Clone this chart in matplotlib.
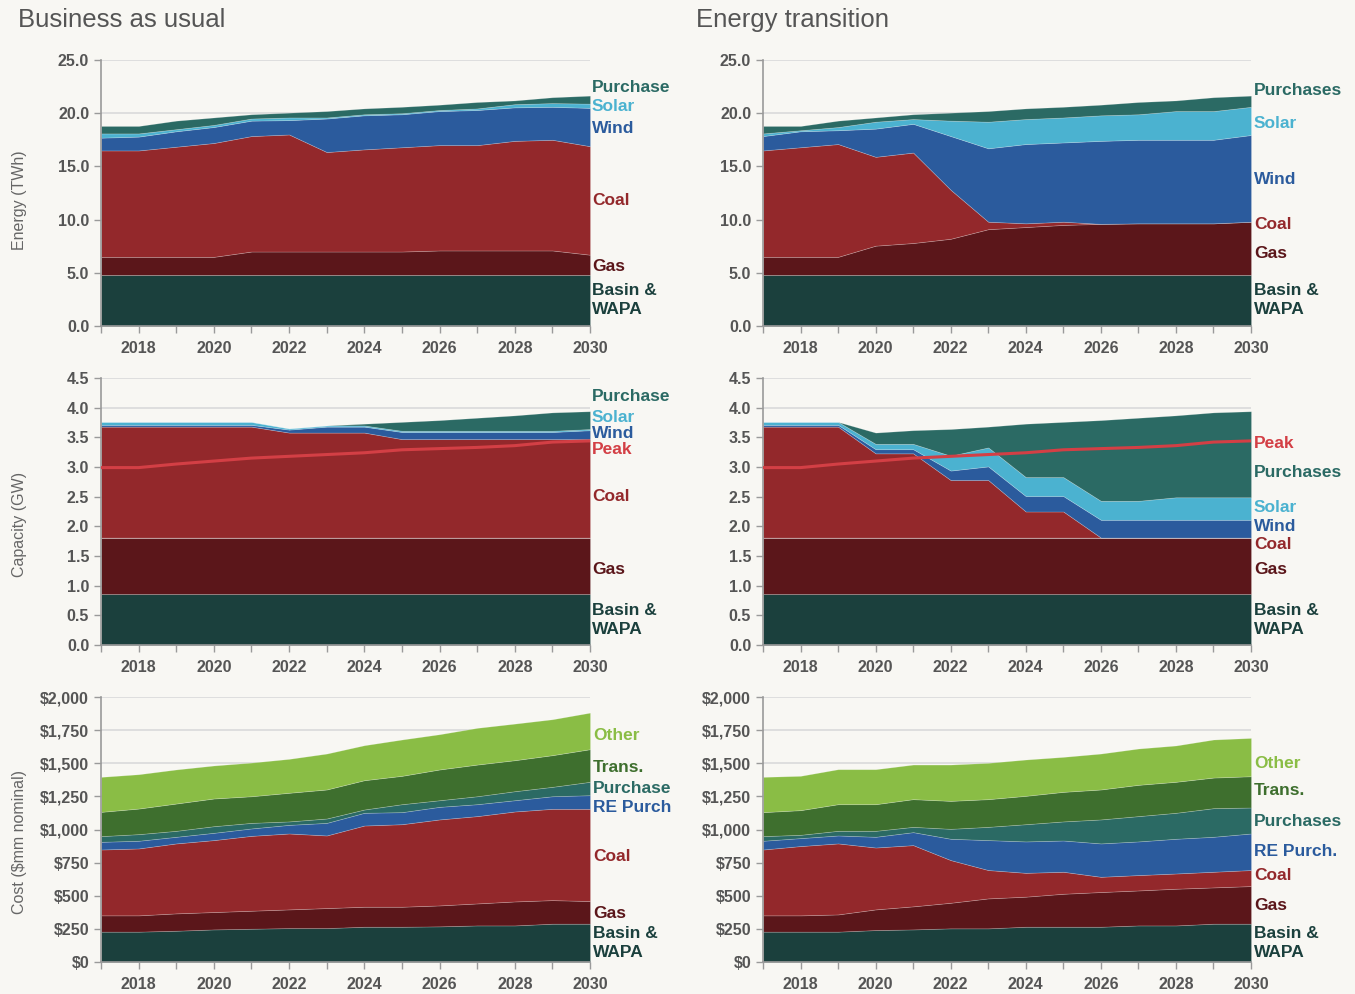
import numpy as np
import matplotlib
matplotlib.use("Agg")
import matplotlib.pyplot as plt
from matplotlib.ticker import FuncFormatter

plt.rcParams['font.family'] = ['Liberation Sans', 'DejaVu Sans']

# years on the x axis
years = np.arange(2017, 2031)

# ---- Energy (TWh) ----
bau_energy_basin = [4.8] * 14
bau_energy_gas = [1.7, 1.7, 1.7, 1.7, 2.2, 2.2, 2.2, 2.2, 2.2, 2.3, 2.3, 2.3, 2.3, 1.9]
bau_energy_coal = [10.0, 10.0, 10.35, 10.7, 10.85, 11.0, 9.35, 9.6, 9.8, 9.9, 9.9, 10.3, 10.4, 10.2]
bau_energy_wind = [1.2, 1.3, 1.45, 1.5, 1.45, 1.35, 3.15, 3.2, 3.1, 3.2, 3.3, 3.15, 3.1, 3.6]
bau_energy_solar = [0.4, 0.3, 0.2, 0.2, 0.2, 0.25, 0.1, 0.1, 0.1, 0.1, 0.15, 0.3, 0.35, 0.4]
bau_energy_purch = [0.7, 0.7, 0.8, 0.7, 0.4, 0.45, 0.6, 0.55, 0.6, 0.5, 0.6, 0.35, 0.55, 0.75]

et_energy_basin = [4.8] * 14
et_energy_gas = [1.7, 1.7, 1.7, 2.75, 3.0, 3.4, 4.3, 4.5, 4.7, 4.8, 4.85, 4.85, 4.85, 5.0]
et_energy_coal = [10.0, 10.3, 10.6, 8.35, 8.5, 4.6, 0.7, 0.35, 0.3, 0, 0, 0, 0, 0]
et_energy_wind = [1.35, 1.5, 1.3, 2.65, 2.7, 5.05, 6.9, 7.45, 7.45, 7.8, 7.85, 7.85, 7.85, 8.15]
et_energy_solar = [0.25, 0.1, 0.3, 0.65, 0.45, 1.45, 2.5, 2.35, 2.35, 2.4, 2.4, 2.7, 2.7, 2.65]
et_energy_purch = [0.7, 0.4, 0.6, 0.4, 0.45, 0.75, 1.0, 1.0, 1.0, 1.0, 1.15, 1.0, 1.3, 1.05]

# ---- Capacity (GW) ----
bau_cap_basin = [0.86] * 14
bau_cap_gas = [0.95] * 14
bau_cap_coal = [1.87] * 5 + [1.77] * 3 + [1.66] * 6
bau_cap_wind = [0.03] * 5 + [0.05, 0.10, 0.10] + [0.12] * 5 + [0.15]
bau_cap_solar = [0.05] * 5 + [0.02] * 9
bau_cap_purch = [0, 0, 0, 0, 0, 0, 0, 0.03, 0.15, 0.18, 0.22, 0.26, 0.31, 0.30]

et_cap_basin = [0.86] * 14
et_cap_gas = [0.95] * 14
et_cap_coal = [1.87, 1.87, 1.87, 1.42, 1.42, 0.97, 0.97, 0.44, 0.44, 0, 0, 0, 0, 0]
et_cap_wind = [0.03, 0.03, 0.03, 0.07, 0.07, 0.16, 0.23, 0.26, 0.26, 0.30, 0.30, 0.30, 0.30, 0.30]
et_cap_solar = [0.05, 0.05, 0.05, 0.09, 0.09, 0.25, 0.32, 0.32, 0.32, 0.32, 0.32, 0.38, 0.38, 0.38]
et_cap_purch = [0, 0, 0, 0.19, 0.23, 0.45, 0.35, 0.90, 0.93, 1.36, 1.40, 1.38, 1.43, 1.45]

peak = [2.99, 2.99, 3.05, 3.10, 3.15, 3.18, 3.21, 3.24, 3.29, 3.31, 3.33, 3.36, 3.42, 3.44]

# ---- Cost ($mm nominal) ----
bau_cost_basin = [229, 229, 236, 246, 251, 256, 256, 266, 266, 269, 276, 276, 289, 289]
bau_cost_gas = [123, 123, 131, 131, 136, 141, 151, 151, 151, 158, 166, 181, 178, 171]
bau_cost_coal = [497, 505, 528, 543, 565, 573, 548, 613, 623, 649, 659, 679, 689, 696]
bau_cost_re = [58, 58, 50, 55, 56, 65, 95, 96, 91, 95, 90, 85, 95, 103]
bau_cost_purch = [43, 50, 45, 50, 42, 26, 33, 25, 60, 50, 60, 68, 71, 101]
bau_cost_trans = [183, 193, 206, 209, 201, 216, 219, 221, 214, 232, 239, 234, 239, 246]
bau_cost_other = [264, 259, 257, 249, 254, 256, 271, 264, 274, 266, 277, 276, 271, 276]

et_cost_basin = [229, 229, 229, 241, 246, 254, 254, 266, 266, 266, 276, 276, 289, 289]
et_cost_gas = [123, 123, 130, 156, 174, 193, 226, 227, 249, 262, 264, 277, 274, 284]
et_cost_coal = [497, 523, 536, 467, 462, 322, 214, 180, 166, 115, 116, 115, 118, 121]
et_cost_re = [66, 60, 60, 81, 98, 161, 226, 237, 236, 252, 254, 262, 264, 276]
et_cost_purch = [35, 25, 35, 45, 40, 75, 100, 130, 144, 181, 191, 196, 216, 196]
et_cost_trans = [181, 186, 201, 201, 209, 211, 209, 214, 223, 226, 236, 234, 231, 236]
et_cost_other = [266, 259, 264, 264, 261, 274, 274, 274, 264, 271, 274, 274, 287, 289]

# colours
c_basin = '#1b403d'
c_gas = '#5b161a'
c_coal = '#93282b'
c_wind = '#2b5b9d'
c_solar = '#4bb2d0'
c_purch = '#2b6a64'
c_peak = '#d33f45'
c_trans = '#3e6f2e'
c_other = '#8abd45'
bg = '#f8f7f3'
grey = '#555555'

W, H = 1355, 994
fig = plt.figure(figsize=(W / 100, H / 100), dpi=100, facecolor=bg)


def make_ax(left, right, top, bottom):
    ax = fig.add_axes([left / W, (H - bottom) / H, (right - left) / W, (bottom - top) / H])
    ax.set_facecolor(bg)
    for s in ['top', 'right']:
        ax.spines[s].set_visible(False)
    for s in ['left', 'bottom']:
        ax.spines[s].set_color('#9a9a9a')
        ax.spines[s].set_linewidth(1.2)
    ax.set_xlim(2017, 2030)
    ax.set_xticks(years)
    ax.set_xticklabels([str(y) if y % 2 == 0 else '' for y in years])
    ax.tick_params(axis='both', colors='#9a9a9a', length=5, width=1, labelcolor=grey,
                   labelsize=11.5)
    ax.tick_params(axis='x', pad=6)
    for lab in ax.get_xticklabels() + ax.get_yticklabels():
        lab.set_fontweight('bold')
    ax.grid(axis='y', color='#dcdcdc', linewidth=1.3)
    ax.set_axisbelow(True)
    return ax


def stack(ax, layers, colors):
    ax.stackplot(years, *layers, colors=colors, edgecolor=(1, 1, 1, 0.25), linewidth=0.5,
                 zorder=2)


def labels(ax, x, items):
    for txt, yv, col in items:
        ax.text(x, yv, txt, color=col, fontsize=12.5, fontweight='bold', va='center',
                ha='left', transform=ax.get_yaxis_transform(), clip_on=False,
                linespacing=1.35)


lefts = (101, 590)
rights = (763, 1251)
rows = [(60, 326), (378, 645), (697, 962)]

# --- row 1: energy ---
energy_colors = [c_basin, c_gas, c_coal, c_wind, c_solar, c_purch]
for i, (lr, layers) in enumerate([
        (lefts, [bau_energy_basin, bau_energy_gas, bau_energy_coal, bau_energy_wind,
                 bau_energy_solar, bau_energy_purch]),
        (rights, [et_energy_basin, et_energy_gas, et_energy_coal, et_energy_wind,
                  et_energy_solar, et_energy_purch])]):
    ax = make_ax(lr[0], lr[1], *rows[0])
    stack(ax, layers, energy_colors)
    ax.set_ylim(0, 25)
    ax.set_yticks(np.arange(0, 25.1, 5))
    ax.yaxis.set_major_formatter(FuncFormatter(lambda v, p: f'{v:.1f}'))
    for lab in ax.get_yticklabels():
        lab.set_fontweight('bold')
    if i == 0:
        labels(ax, 1.004, [('Purchase', 22.4, c_purch), ('Solar', 20.6, c_solar),
                           ('Wind', 18.6, c_wind), ('Coal', 11.8, c_coal),
                           ('Gas', 5.6, c_gas), ('Basin &\nWAPA', 2.45, c_basin)])
    else:
        labels(ax, 1.006, [('Purchases', 22.1, c_purch), ('Solar', 19.0, c_solar),
                           ('Wind', 13.8, c_wind), ('Coal', 9.5, c_coal),
                           ('Gas', 6.8, c_gas), ('Basin &\nWAPA', 2.45, c_basin)])

# --- row 2: capacity ---
for i, (lr, layers) in enumerate([
        (lefts, [bau_cap_basin, bau_cap_gas, bau_cap_coal, bau_cap_wind,
                 bau_cap_solar, bau_cap_purch]),
        (rights, [et_cap_basin, et_cap_gas, et_cap_coal, et_cap_wind,
                  et_cap_solar, et_cap_purch])]):
    ax = make_ax(lr[0], lr[1], *rows[1])
    stack(ax, layers, energy_colors)
    ax.plot(years, peak, color=c_peak, linewidth=2.2, zorder=3)
    ax.set_ylim(0, 4.5)
    ax.set_yticks(np.arange(0, 4.51, 0.5))
    ax.yaxis.set_major_formatter(FuncFormatter(lambda v, p: f'{v:.1f}'))
    for lab in ax.get_yticklabels():
        lab.set_fontweight('bold')
    if i == 0:
        labels(ax, 1.004, [('Purchase', 4.18, c_purch), ('Solar', 3.83, c_solar),
                           ('Wind', 3.57, c_wind), ('Peak', 3.30, c_peak),
                           ('Coal', 2.51, c_coal), ('Gas', 1.28, c_gas),
                           ('Basin &\nWAPA', 0.42, c_basin)])
    else:
        labels(ax, 1.006, [('Peak', 3.40, c_peak), ('Purchases', 2.90, c_purch),
                           ('Solar', 2.31, c_solar), ('Wind', 2.0, c_wind),
                           ('Coal', 1.70, c_coal), ('Gas', 1.28, c_gas),
                           ('Basin &\nWAPA', 0.42, c_basin)])

# --- row 3: cost ---
cost_colors = [c_basin, c_gas, c_coal, c_wind, c_purch, c_trans, c_other]
for i, (lr, layers) in enumerate([
        (lefts, [bau_cost_basin, bau_cost_gas, bau_cost_coal, bau_cost_re,
                 bau_cost_purch, bau_cost_trans, bau_cost_other]),
        (rights, [et_cost_basin, et_cost_gas, et_cost_coal, et_cost_re,
                  et_cost_purch, et_cost_trans, et_cost_other])]):
    ax = make_ax(lr[0], lr[1], *rows[2])
    stack(ax, layers, cost_colors)
    ax.set_ylim(0, 2000)
    ax.set_yticks(np.arange(0, 2001, 250))
    ax.yaxis.set_major_formatter(FuncFormatter(lambda v, p: '\\$' + f'{v:,.0f}'))
    for lab in ax.get_yticklabels():
        lab.set_fontweight('bold')
    if i == 0:
        labels(ax, 1.006, [('Other', 1711, c_other), ('Trans.', 1470, c_trans),
                           ('Purchase', 1312, c_purch), ('RE Purch', 1168, c_wind),
                           ('Coal', 799, c_coal), ('Gas', 369, c_gas),
                           ('Basin &\nWAPA', 143, c_basin)])
    else:
        labels(ax, 1.006, [('Other', 1500, c_other), ('Trans.', 1296, c_trans),
                           ('Purchases', 1063, c_purch), ('RE Purch.', 837, c_wind),
                           ('Coal', 656, c_coal), ('Gas', 430, c_gas),
                           ('Basin &\nWAPA', 143, c_basin)])

# titles and axis names
fig.text(18 / W, 1 - 20 / H, 'Business as usual', fontsize=18.5, color=grey, va='center')
fig.text(696 / W, 1 - 20 / H, 'Energy transition', fontsize=18.5, color=grey, va='center')
fig.text(20 / W, 1 - 200 / H, 'Energy (TWh)', rotation=90, fontsize=11.5, color='#666666',
         va='center', ha='center')
fig.text(20 / W, 1 - 524 / H, 'Capacity (GW)', rotation=90, fontsize=11.5, color='#666666',
         va='center', ha='center')
fig.text(20 / W, 1 - 842 / H, 'Cost (\\$mm nominal)', rotation=90, fontsize=11.5,
         color='#666666', va='center', ha='center')

fig.savefig('out.png', dpi=100, facecolor=bg)
